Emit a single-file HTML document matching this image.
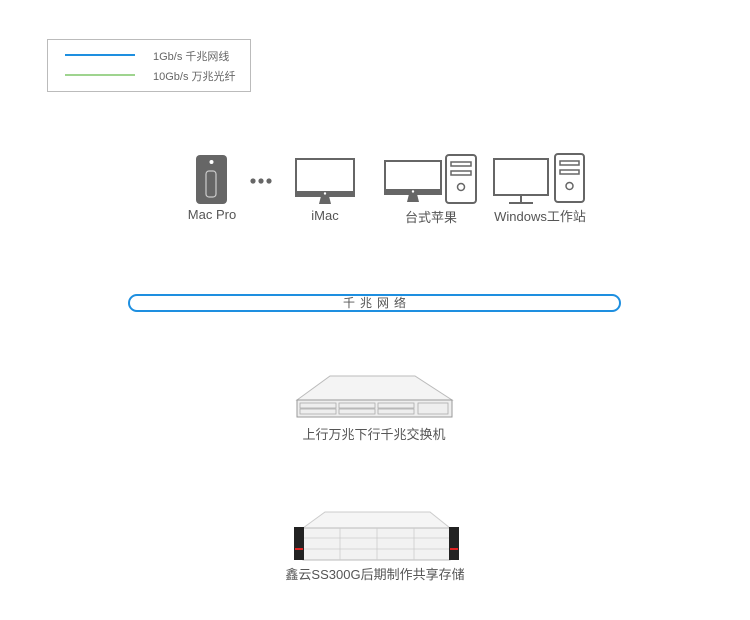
<!DOCTYPE html>
<html><head><meta charset="utf-8"><style>
body{margin:0;width:750px;height:620px;background:#fff;font-family:"Liberation Sans","Noto Sans CJK SC",sans-serif;color:#555;position:relative;overflow:hidden}
.t{position:absolute;font-size:13px;white-space:nowrap;transform:translateX(-50%)}
</style></head><body>
<div style="position:absolute;left:47px;top:39px;width:202px;height:51px;border:1px solid #bbb"></div>
<div style="position:absolute;left:65px;top:54px;width:70px;height:2px;background:#1e8fe0"></div>
<div style="position:absolute;left:65px;top:74px;width:70px;height:2px;background:#9fd48f"></div>
<div style="position:absolute;left:153px;top:48px;font-size:11px;color:#666">1Gb/s 千兆网线</div>
<div style="position:absolute;left:153px;top:68px;font-size:11px;color:#666">10Gb/s 万兆光纤</div>

<svg width="750" height="620" style="position:absolute;left:0;top:0">
<rect x="196" y="155" width="31" height="49" rx="4" fill="#666"/>
<circle cx="211.5" cy="162" r="2" fill="#fff"/>
<rect x="206" y="171" width="10" height="26" rx="3" fill="none" stroke="#ccc" stroke-width="1.2"/>
<circle cx="253" cy="181" r="2.6" fill="#666"/><circle cx="261" cy="181" r="2.6" fill="#666"/><circle cx="269" cy="181" r="2.6" fill="#666"/>
<rect x="296" y="159" width="58" height="37" fill="none" stroke="#666" stroke-width="2"/>
<rect x="296" y="191" width="58" height="5" fill="#666"/>
<circle cx="325" cy="193.5" r="1.2" fill="#fff"/>
<path d="M321 196 L329 196 L331 204 L319 204 Z" fill="#666"/>
<rect x="385" y="161" width="56" height="33" fill="none" stroke="#666" stroke-width="2"/>
<rect x="385" y="189" width="56" height="5" fill="#666"/>
<circle cx="413" cy="191.5" r="1.2" fill="#fff"/>
<path d="M409 194 L417 194 L419 202 L407 202 Z" fill="#666"/>
<rect x="446" y="155" width="30" height="48" rx="3" fill="none" stroke="#666" stroke-width="2"/>
<rect x="451" y="162" width="20" height="4" fill="none" stroke="#666" stroke-width="1.5"/>
<rect x="451" y="171" width="20" height="4" fill="none" stroke="#666" stroke-width="1.5"/>
<circle cx="461" cy="187" r="3.5" fill="none" stroke="#666" stroke-width="1.5"/>
<rect x="494" y="159" width="54" height="36" fill="none" stroke="#666" stroke-width="2"/>
<line x1="521" y1="195" x2="521" y2="203" stroke="#666" stroke-width="2"/>
<line x1="509" y1="203" x2="533" y2="203" stroke="#666" stroke-width="2"/>
<rect x="555" y="154" width="29" height="48" rx="3" fill="none" stroke="#666" stroke-width="2"/>
<rect x="560" y="161" width="19" height="4" fill="none" stroke="#666" stroke-width="1.5"/>
<rect x="560" y="170" width="19" height="4" fill="none" stroke="#666" stroke-width="1.5"/>
<circle cx="569.5" cy="186" r="3.5" fill="none" stroke="#666" stroke-width="1.5"/>
<rect x="129" y="295" width="491" height="16" rx="8" fill="#fff" stroke="#1e8fe0" stroke-width="2"/>
<path d="M297 400 L330 376 L415 376 L452 400 Z" fill="#f4f4f4" stroke="#bbb"/>
<rect x="297" y="400" width="155" height="17" fill="#eee" stroke="#999"/>
<g fill="none" stroke="#aaa" stroke-width="0.8">
<rect x="300" y="403" width="36" height="5"/><rect x="300" y="409" width="36" height="5"/>
<rect x="339" y="403" width="36" height="5"/><rect x="339" y="409" width="36" height="5"/>
<rect x="378" y="403" width="36" height="5"/><rect x="378" y="409" width="36" height="5"/>
<rect x="418" y="403" width="30" height="11"/>
</g>
<path d="M303 528 L325 512 L430 512 L450 528 Z" fill="#f5f5f5" stroke="#ccc"/>
<rect x="303" y="528" width="147" height="32" fill="#f2f2f2" stroke="#bbb"/>
<g stroke="#ccc" stroke-width="0.8"><line x1="303" y1="538" x2="450" y2="538"/><line x1="303" y1="549" x2="450" y2="549"/>
<line x1="340" y1="528" x2="340" y2="560"/><line x1="377" y1="528" x2="377" y2="560"/><line x1="414" y1="528" x2="414" y2="560"/></g>
<rect x="294" y="527" width="10" height="33" fill="#222"/>
<rect x="449" y="527" width="10" height="33" fill="#222"/>
<rect x="295" y="548" width="8" height="2" fill="#d22"/><rect x="450" y="548" width="8" height="2" fill="#d22"/>
</svg>

<div class="t" style="left:212px;top:207px">Mac Pro</div>
<div class="t" style="left:325px;top:208px">iMac</div>
<div class="t" style="left:431px;top:207px">台式苹果</div>
<div class="t" style="left:540px;top:206px">Windows工作站</div>
<div class="t" style="left:377px;top:294px;font-size:12px;letter-spacing:5px">千兆网络</div>
<div class="t" style="left:374px;top:424px">上行万兆下行千兆交换机</div>
<div class="t" style="left:375px;top:564px">鑫云SS300G后期制作共享存储</div>
</body></html>
